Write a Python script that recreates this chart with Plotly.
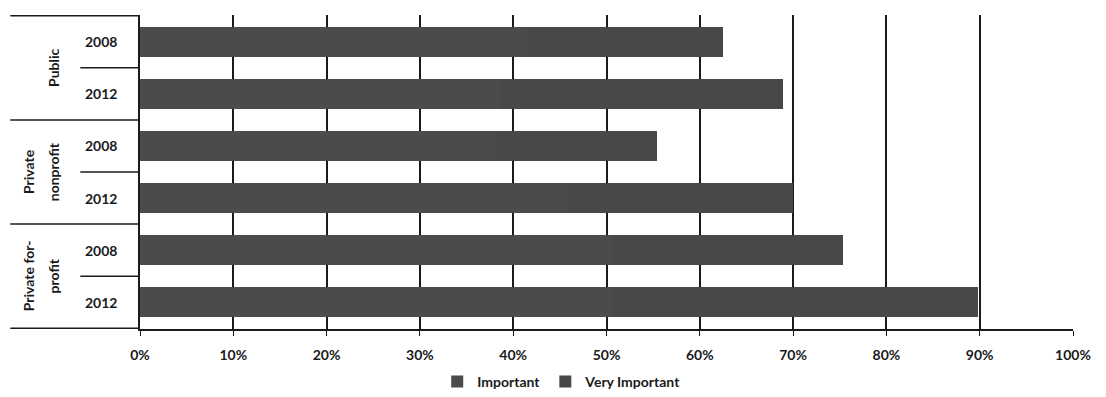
import plotly.graph_objects as go

# categorias (grupo, año) y valores, en %
grupos = ["Public", "Public", "Private nonprofit", "Private nonprofit", "Private for-profit", "Private for-profit"]
anios = ["2008", "2012", "2008", "2012", "2008", "2012"]
important = [41.7, 38.5, 38.2, 45.9, 50.5, 50.6]
very_important = [20.8, 30.4, 17.2, 24.1, 24.8, 39.2]
etiquetas_grupo = [["Public"], ["Private", "nonprofit"], ["Private for-", "profit"]]
ticks_x = [0, 10, 20, 30, 40, 50, 60, 70, 80, 90, 100]

categorias = [g + " " + a for g, a in zip(grupos, anios)]
fuente = "Lato, 'DejaVu Sans', sans-serif"
negro = "#1a1a1a"

fig = go.Figure()
fig.add_trace(go.Bar(y=categorias, x=important, orientation="h", name="Important",
                     marker=dict(color="#4b4b4b", line=dict(width=0))))
fig.add_trace(go.Bar(y=categorias, x=very_important, orientation="h", name="Very Important",
                     marker=dict(color="#484848", line=dict(width=0))))

fig.update_layout(
    barmode="stack", bargap=0.42,
    width=1106, height=397,
    margin=dict(l=140, r=33, t=15, b=68),
    paper_bgcolor="white", plot_bgcolor="white",
    font=dict(family=fuente, size=14, color=negro, weight="bold"),
    showlegend=True,
    legend=dict(orientation="h", x=0.452, xanchor="center", yref="container", y=0.038,
                yanchor="middle", font=dict(size=14, weight="bold"), itemwidth=30,
                traceorder="normal"),
)
fig.update_xaxes(range=[0, 100], tickvals=ticks_x, ticktext=[f"{t}%" for t in ticks_x],
                 showgrid=True, gridcolor=negro, gridwidth=1.5,
                 showline=True, linecolor=negro, linewidth=1.5,
                 ticks="outside", ticklen=5, tickcolor=negro, ticklabelstandoff=7,
                 zeroline=False, automargin=False)
fig.update_yaxes(categoryorder="array", categoryarray=categorias, autorange="reversed",
                 showticklabels=False, showline=True, linecolor=negro, linewidth=1.5,
                 showgrid=False, ticks="", automargin=False)

# etiquetas de año
for c, a in zip(categorias, anios):
    fig.add_annotation(x=-0.042, xref="paper", y=c, yref="y", text=a, showarrow=False,
                       xanchor="center", font=dict(size=14, color=negro, weight="bold"))

# etiquetas de grupo, giradas (una anotacion por linea)
pos_x = {1: [-0.092], 2: [-0.120, -0.093]}
for i, lineas in enumerate(etiquetas_grupo):
    for lx, t in zip(pos_x[len(lineas)], lineas):
        fig.add_annotation(x=lx, xref="paper", y=2 * i + 0.5, yref="y", text=t,
                           showarrow=False, textangle=-90, xanchor="center",
                           yanchor="middle", font=dict(size=14, color=negro, weight="bold"))

# lineas separadoras en la zona de etiquetas
for yb in [-0.5, 1.5, 3.5, 5.5]:
    fig.add_shape(type="line", xref="paper", yref="y", x0=-0.139, x1=0, y0=yb, y1=yb,
                  line=dict(color=negro, width=1.5))
for yb in [0.5, 2.5, 4.5]:
    fig.add_shape(type="line", xref="paper", yref="y", x0=-0.064, x1=0, y0=yb, y1=yb,
                  line=dict(color=negro, width=1.5))

fig.write_html("out.html", config={"displayModeBar": False},
               post_script="document.body.style.margin='0';")
